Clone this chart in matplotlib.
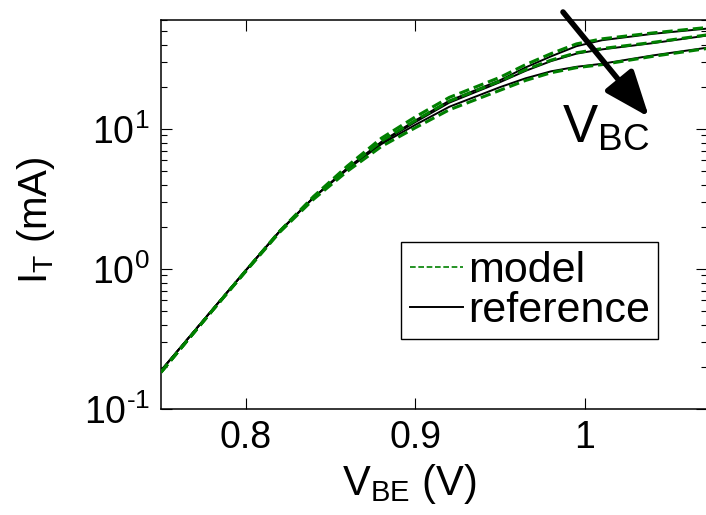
import matplotlib
matplotlib.use('Agg')
import matplotlib.pyplot as plt
import numpy as np

plt.rcParams['font.family'] = ['Liberation Sans', 'DejaVu Sans']
plt.rcParams['mathtext.fontset'] = 'custom'
plt.rcParams['mathtext.rm'] = 'Liberation Sans'
plt.rcParams['mathtext.it'] = 'Liberation Sans'
plt.rcParams['mathtext.default'] = 'regular'
plt.rcParams['axes.unicode_minus'] = False

# base-emitter voltage (V)
vbe = [0.75, 0.765, 0.78, 0.80, 0.82, 0.84, 0.86, 0.88, 0.90, 0.92, 0.95,
       0.965, 0.98, 0.995, 1.01, 1.04, 1.075]

# terminal current (mA), reference data, one row per V_BC
it_ref = [
    [0.188, 0.309, 0.507, 0.977, 1.86, 3.24, 5.25, 8.1, 11.5, 15.9, 22.3, 27.5, 33.0, 39.0, 43.0, 47.8, 52.5],
    [0.188, 0.309, 0.507, 0.977, 1.86, 3.24, 5.25, 8.0, 11.2, 15.4, 21.6, 26.0, 30.5, 34.5, 37.0, 41.0, 47.0],
    [0.188, 0.309, 0.507, 0.977, 1.86, 3.24, 5.15, 7.8, 10.7, 14.4, 19.9, 23.0, 25.8, 27.8, 29.2, 33.5, 38.5],
]
# compact model
it_mod = [
    [0.183, 0.303, 0.50, 0.97, 1.86, 3.30, 5.45, 8.6, 12.2, 16.8, 23.4, 28.8, 34.5, 40.5, 44.0, 48.5, 53.5],
    [0.183, 0.303, 0.50, 0.97, 1.86, 3.25, 5.30, 8.2, 11.5, 15.8, 22.0, 26.5, 31.0, 35.0, 37.5, 41.5, 47.5],
    [0.183, 0.303, 0.50, 0.96, 1.83, 3.15, 5.00, 7.5, 10.2, 13.7, 18.9, 22.2, 25.2, 27.4, 28.8, 33.0, 38.0],
]

xtick_vals = [0.8, 0.9, 1.0]
xtick_labels = ['0.8', '0.9', '1']
ytick_vals = [0.1, 1, 10]
ytick_labels = ['$10^{\u2010 1}$', '$10^{0}$', '$10^{1}$']

fig = plt.figure(figsize=(7.06, 5.15), dpi=100)
ax = fig.add_axes([161/706, 106/515, 546/706, 389/515])

for k in range(len(it_mod)):
    ax.plot(vbe, it_mod[k], color=(0, 0.5, 0), lw=2.2, ls=(0, (3.4, 1.6)),
            label='model' if k == 0 else None, zorder=3)
    ax.plot(vbe, it_ref[k], color='k', lw=1.4,
            label='reference' if k == 0 else None, zorder=2)

ax.set_yscale('log')
ax.set_xlim(0.75, 1.072)
ax.set_ylim(0.1, 60)
ax.set_xticks(xtick_vals)
ax.set_xticklabels(xtick_labels)
ax.set_yticks(ytick_vals)
ax.set_yticklabels(ytick_labels)
ax.minorticks_on()
ax.xaxis.set_minor_locator(matplotlib.ticker.NullLocator())
ax.tick_params(which='both', direction='in', top=True, right=True, labelsize=27, width=0.8)
ax.tick_params(which='major', length=8, pad=8)
ax.tick_params(which='minor', length=4)
for s in ax.spines.values():
    s.set_linewidth(1.1)

ax.set_xlabel('$V_{BE}$ (V)', fontsize=30, labelpad=0)
ax.xaxis.set_label_coords(0.454, -0.135)
ax.set_ylabel('$I_T$ (mA)', fontsize=29)
ax.yaxis.set_label_coords(-0.19, 0.486)

# V_BC arrow
ax.annotate('', xy=(649, 515-117), xycoords='figure pixels',
            xytext=(563, 515-12), textcoords='figure pixels',
            arrowprops=dict(arrowstyle='-|>,head_length=2.8,head_width=1.1',
                            lw=4, color='k', shrinkA=0, shrinkB=0),
            annotation_clip=False)
fig.text(606/706, 1-128/515, '$V_{BC}$', fontsize=38, ha='center', va='center')

leg = ax.legend(loc='upper left', bbox_to_anchor=(401/706, 1-242/515),
                bbox_transform=fig.transFigure, fontsize=31, frameon=True,
                fancybox=False, framealpha=1, edgecolor='k', borderaxespad=0,
                handlelength=1.25, handletextpad=0.1, labelspacing=0.0,
                borderpad=0.2)
leg.get_frame().set_linewidth(1.0)
for h in leg.get_lines():
    if h.get_label() == 'model':
        h.set_linewidth(1.2)

fig.savefig('out.png', dpi=100)
